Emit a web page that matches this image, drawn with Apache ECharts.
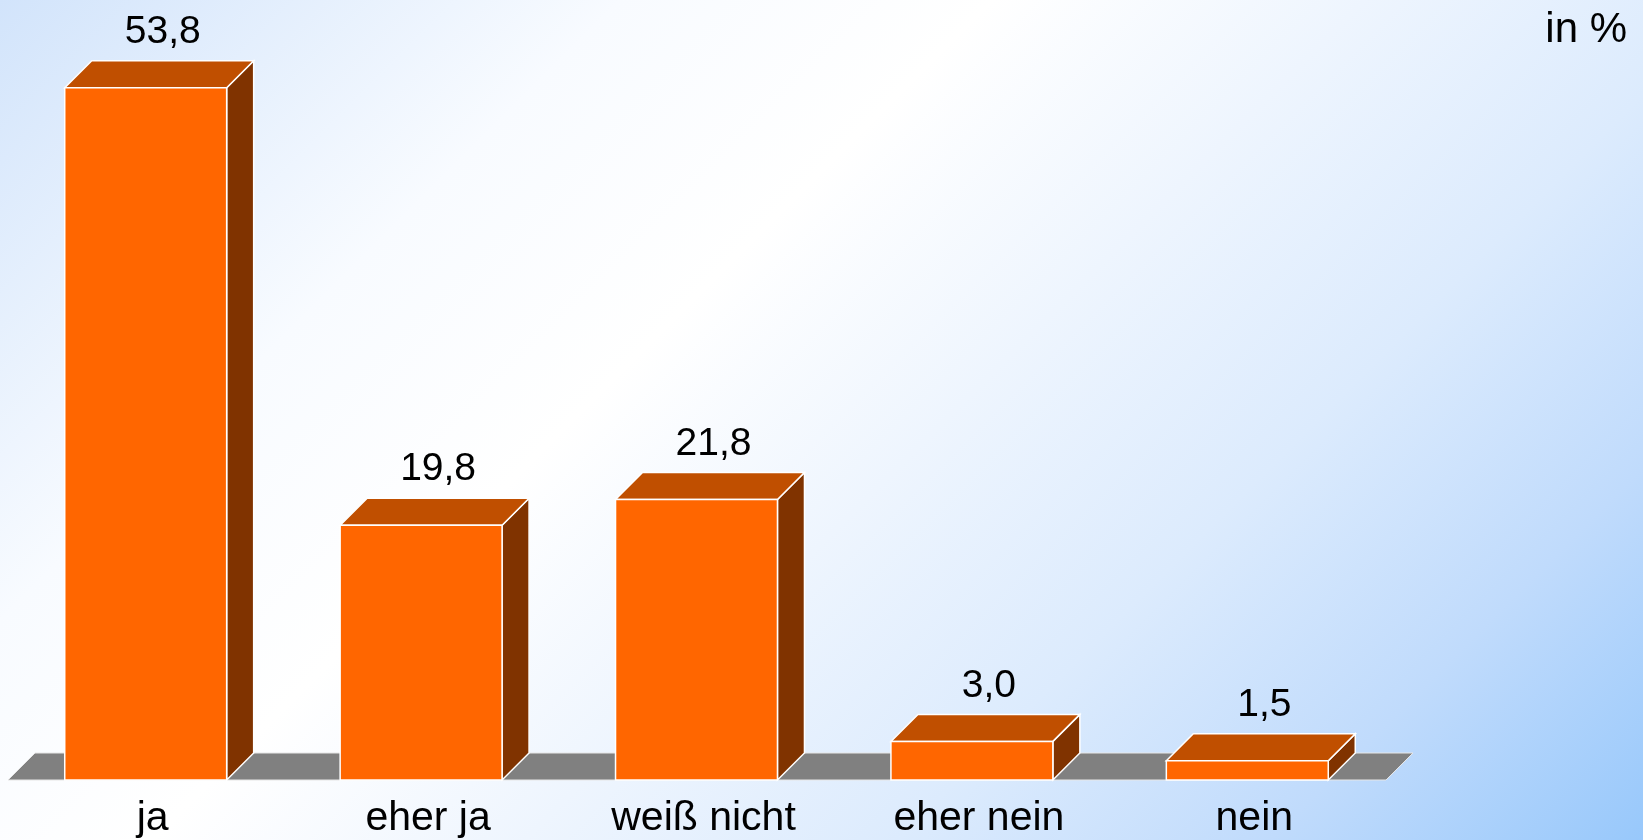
<!DOCTYPE html>
<html>
<head>
<meta charset="utf-8">
<script src="https://cdn.jsdelivr.net/npm/echarts@6/dist/echarts.min.js"></script>
<style>
html, body { margin: 0; padding: 0; }
#chart { width: 1643px; height: 840px; }
</style>
</head>
<body>
<div id="chart"></div>
<script>
var categories = ['ja', 'eher ja', 'weiß nicht', 'eher nein', 'nein'];
var values = [53.8, 19.8, 21.8, 3.0, 1.5];
var unitLabel = 'in %';

var myChart = echarts.init(document.getElementById('chart'));

var depth = 27;
var font = '"Liberation Sans", Arial, sans-serif';

function fmt(v) {
    return v.toFixed(1).replace('.', ',');
}

option = {
    backgroundColor: new echarts.graphic.LinearGradient(0, 0, 0.755, 1.478, [
        { offset: 0, color: '#d2e4fb' },
        { offset: 0.25, color: '#f8fbff' },
        { offset: 0.4, color: '#ffffff' },
        { offset: 0.55, color: '#eef5fe' },
        { offset: 0.7, color: '#dcebfd' },
        { offset: 0.85, color: '#c0dbfc' },
        { offset: 1, color: '#98c8fb' }
    ]),
    animation: false,
    grid: {
        left: 8,
        width: 1377,
        top: 8,
        bottom: 60
    },
    graphic: [{
        type: 'text',
        right: 16,
        top: 9,
        style: {
            text: unitLabel,
            font: '42px ' + font,
            fill: '#000'
        }
    }],
    xAxis: {
        type: 'category',
        data: categories,
        axisLine: { show: false },
        axisTick: { show: false },
        axisLabel: {
            margin: 18,
            padding: [0, 0, 0, 14],
            fontSize: 41,
            fontFamily: font,
            color: '#000'
        }
    },
    yAxis: {
        type: 'value',
        min: 0,
        max: 60,
        show: false
    },
    series: [{
        // Boden
        type: 'custom',
        silent: true,
        data: [[0]],
        renderItem: function (params, api) {
            var cs = params.coordSys;
            var yb = cs.y + cs.height;
            var x0 = cs.x, x1 = cs.x + cs.width + 1;
            return {
                type: 'polygon',
                shape: { points: [[x0, yb], [x1, yb], [x1 + depth, yb - depth], [x0 + depth, yb - depth]] },
                style: { fill: '#808080', stroke: '#e6e6e6', lineWidth: 1 }
            };
        }
    }, {
        type: 'custom',
        data: values.map(function (v, i) { return [i, v]; }),
        renderItem: function (params, api) {
            var top = api.coord([api.value(0), api.value(1)]);
            var base = api.coord([api.value(0), 0]);
            var w = api.size([1, 0])[0] * 0.588;
            var x0 = top[0] - w / 2, x1 = top[0] + w / 2;
            var yt = top[1], yb = base[1];
            var d = depth;
            var line = { stroke: '#ffffff', lineWidth: 1.5 };
            return {
                type: 'group',
                children: [{
                    type: 'polygon',
                    shape: { points: [[x1, yt], [x1, yb], [x1 + d, yb - d], [x1 + d, yt - d]] },
                    style: Object.assign({ fill: '#803300' }, line)
                }, {
                    type: 'polygon',
                    shape: { points: [[x0, yt], [x1, yt], [x1 + d, yt - d], [x0 + d, yt - d]] },
                    style: Object.assign({ fill: '#c04f00' }, line)
                }, {
                    type: 'rect',
                    shape: { x: x0, y: yt, width: w, height: yb - yt },
                    style: Object.assign({ fill: '#ff6600' }, line)
                }, {
                    type: 'text',
                    x: top[0] + 17,
                    y: yt - d - 9,
                    style: {
                        text: fmt(api.value(1)),
                        font: '39px ' + font,
                        fill: '#000',
                        align: 'center',
                        verticalAlign: 'bottom'
                    }
                }]
            };
        }
    }]
};
myChart.setOption(option);
</script>
</body>
</html>
